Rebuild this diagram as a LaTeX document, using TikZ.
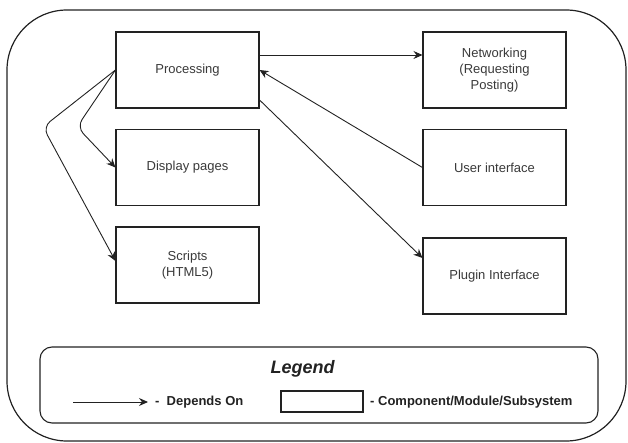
\documentclass[tikz,border=0pt]{standalone}
\usepackage{fontspec}
\setmainfont{Liberation Sans}
\usetikzlibrary{arrows.meta}
\definecolor{ink}{HTML}{222222}
\definecolor{txt}{HTML}{3A3A3A}
\tikzset{
  comp/.style={draw=ink, line width=1.1pt, fill=white, minimum width=143pt, minimum height=76pt,
    inner sep=0pt, align=center, font=\fontsize{13pt}{16pt}\selectfont, text=txt},
  dep/.style={draw=ink, line width=0.9pt, -{Stealth[length=9pt,width=8pt,inset=3pt]}},
  legtext/.style={font=\bfseries\fontsize{13pt}{15pt}\selectfont, text=ink, anchor=west, inner sep=0pt}
}
\begin{document}
\begin{tikzpicture}[x=1pt,y=-1pt]
\useasboundingbox (0,0) rectangle (628,443);
% system boundary
\draw[ink, line width=1.2pt, rounded corners=60pt] (7,10) rectangle (626,441);

% components
\node[comp] (proc)   at (187.5,70)  {Processing};
\node[comp] (disp)   at (187.5,167.5) {Display pages};
\node[comp] (script) at (187.5,265) {Scripts\\(HTML5)};
\node[comp] (net)    at (494.5,70)  {Networking\\(Requesting\\Posting)};
\node[comp] (ui)     at (494.5,167.5) {User interface};
\node[comp] (plug)   at (494.5,276) {Plugin Interface};

% dependencies
\draw[dep] ([yshift=15pt]proc.east) -- ([yshift=15pt]net.west);
\draw[dep] (ui.west) -- (proc.east);
\draw[dep] ([yshift=-30pt]proc.east) -- ([yshift=18pt]plug.west);
\coordinate (bendA) at (77,127);
\coordinate (bendB) at (43,127);
\draw[dep, rounded corners=9pt] (proc.west) -- (bendA) -- (disp.west);
\draw[dep, rounded corners=9pt] (proc.west) -- (bendB) -- ([yshift=4pt]script.west);

% legend
\draw[ink, line width=1.1pt, rounded corners=12pt] (40,347) rectangle (598,423);
\node[font=\bfseries\itshape\fontsize{18pt}{20pt}\selectfont, text=ink] (legtitle) at (302.5,369) {Legend};
\coordinate (la) at (73,402);
\coordinate (lb) at (148,402);
\draw[dep] (la) -- (lb);
\node[legtext] (ldep) at (155,402) {-\ \ Depends On};
\node[draw=ink, line width=1.1pt, minimum width=82pt, minimum height=21pt, inner sep=0pt] (lbox) at (322,401.5) {};
\node[legtext] (lcomp) at (370,402) {- Component/Module/Subsystem};
\end{tikzpicture}
\end{document}
